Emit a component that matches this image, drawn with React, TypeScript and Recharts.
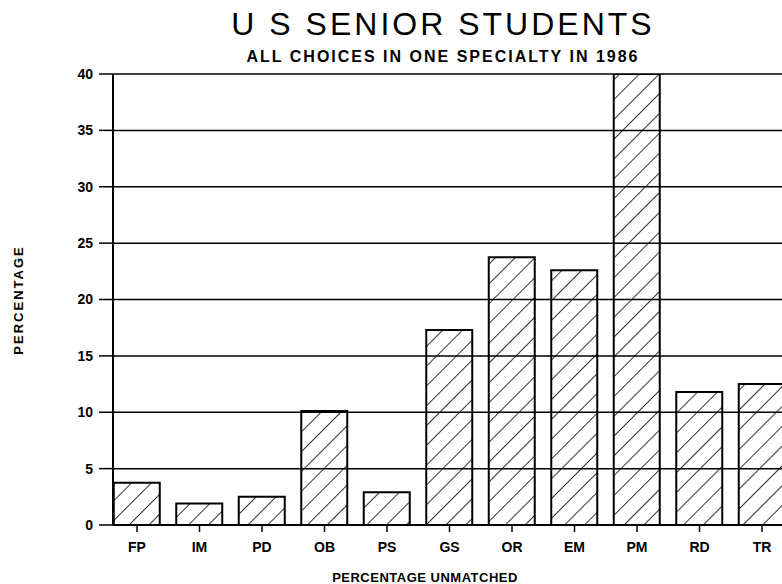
import React from 'react';
import { BarChart, Bar, XAxis, YAxis, CartesianGrid } from 'recharts';

const categories = ['FP', 'IM', 'PD', 'OB', 'PS', 'GS', 'OR', 'EM', 'PM', 'RD', 'TR'];
const unmatched = [3.75, 1.9, 2.5, 10.1, 2.9, 17.3, 23.75, 22.6, 40, 11.8, 12.5];
const yTicks = [0, 5, 10, 15, 20, 25, 30, 35, 40];

const title = 'U S SENIOR STUDENTS';
const subtitle = 'ALL CHOICES IN ONE SPECIALTY IN 1986';
const xTitle = 'PERCENTAGE UNMATCHED';
const yTitle = 'PERCENTAGE';

const data = categories.map((c, i) => ({ name: c, value: unmatched[i] }));

const FONT = '"Liberation Sans", Arial, sans-serif';

export default function App() {
  return (
    <div style={{ position: 'fixed', left: 0, top: 0, width: 782, height: 584, overflow: 'hidden', background: '#fff' }}>
      <svg width={0} height={0} style={{ position: 'absolute' }}>
        <defs>
          <pattern id="hatch" patternUnits="userSpaceOnUse" width={14} height={14} patternTransform="rotate(45)">
            <line x1={0} y1={0} x2={0} y2={14} stroke="#000" strokeWidth={1.6} />
          </pattern>
        </defs>
      </svg>
      <BarChart
        width={820}
        height={584}
        data={data}
        margin={{ top: 74, right: 26.75, bottom: 0, left: 0 }}
        barSize={46}
      >
        <CartesianGrid vertical={false} stroke="#000" strokeWidth={1.5} strokeOpacity={1} />
        <XAxis
          dataKey="name"
          height={59}
          padding={{ left: -7.25, right: 0 }}
          axisLine={{ stroke: '#000', strokeWidth: 2 }}
          tickLine={{ stroke: '#000', strokeWidth: 1.5 }}
          tickSize={7}
          tickMargin={10}
          tick={{ fill: '#000', fontSize: 14, fontWeight: 'bold', fontFamily: FONT }}
          interval={0}
        />
        <YAxis
          width={113}
          domain={[0, 40]}
          ticks={yTicks}
          allowDataOverflow
          axisLine={{ stroke: '#000', strokeWidth: 2 }}
          tickLine={{ stroke: '#000', strokeWidth: 1.5 }}
          tickSize={14}
          tickMargin={6}
          tick={{ fill: '#000', fontSize: 14, fontWeight: 'bold', fontFamily: FONT }}
        />
        <Bar dataKey="value" fill="url(#hatch)" stroke="#000" strokeWidth={2} isAnimationActive={false} />
      </BarChart>
      <svg width={782} height={584} style={{ position: 'absolute', left: 0, top: 0, pointerEvents: 'none' }}>
        <text x={443} y={35} textAnchor="middle" fontSize={32} fontFamily={FONT} letterSpacing={3} fill="#000">
          {title}
        </text>
        <text x={443} y={62} textAnchor="middle" fontSize={16} fontWeight="bold" fontFamily={FONT} letterSpacing={2} fill="#000">
          {subtitle}
        </text>
        <text x={425} y={582} textAnchor="middle" fontSize={13} fontWeight="bold" fontFamily={FONT} letterSpacing={0.5} fill="#000">
          {xTitle}
        </text>
        <text x={23} y={300} textAnchor="middle" fontSize={13} fontWeight="bold" fontFamily={FONT} letterSpacing={2} fill="#000" transform="rotate(-90 23 300)">
          {yTitle}
        </text>
      </svg>
    </div>
  );
}
